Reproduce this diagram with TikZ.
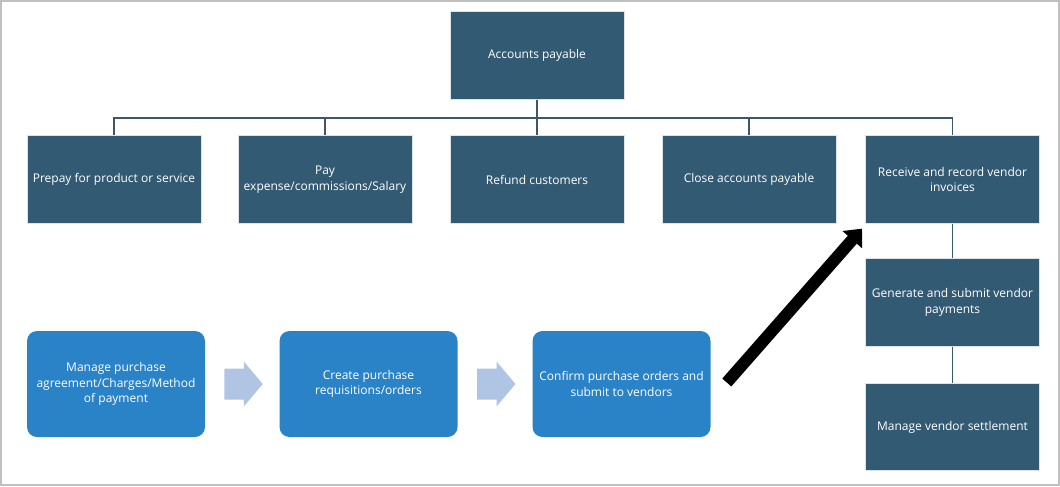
\documentclass[tikz,border=0pt]{standalone}
\usepackage{fontspec}
\setmainfont{Open Sans}
\usetikzlibrary{arrows.meta,calc}
\definecolor{darkbox}{RGB}{51,90,115}
\definecolor{bluebox}{RGB}{42,130,199}
\definecolor{boxedge}{RGB}{221,227,234}
\definecolor{linkcol}{RGB}{62,86,106}
\definecolor{arrowblue}{RGB}{176,196,228}
\definecolor{framegray}{RGB}{192,192,192}
\begin{document}
\begin{tikzpicture}[x=0.75pt,y=-0.75pt,
  txt/.style={text=white, align=center, inner sep=0pt, font=\fontsize{9}{11.5}\selectfont},
  darknode/.style={txt, draw=boxedge, line width=0.75pt, fill=darkbox,
    minimum width=130.5pt, minimum height=65.5pt},
  bluenode/.style={txt, fill=bluebox, rounded corners=7.5pt,
    minimum width=133.5pt, minimum height=79.5pt},
  link/.style={draw=linkcol, line width=0.9pt},
  blockarrow/.style={fill=arrowblue},
  bigarrow/.style={draw=black, line width=9pt,
    -{Triangle[length=11pt,width=19pt]}}]
\useasboundingbox (0,0) rectangle (1060,486);
\draw[framegray, line width=1.2pt] (0.8,0.8) rectangle (1059.2,485.2);

% top node
\node[darknode, minimum height=66pt] (top) at (537,55) {Accounts payable};

% first row
\node[darknode] (c1) at (114,179.5) {Prepay for product or service};
\node[darknode] (c2) at (325,179.5) {Pay\\expense/commissions/Salary};
\node[darknode] (c3) at (537,179.5) {Refund customers};
\node[darknode] (c4) at (749,179.5) {Close accounts payable};
\node[darknode] (c5) at (952.5,179.5) {Receive and record vendor\\invoices};

% right column
\node[darknode] (c6) at (952.5,302.5) {Generate and submit vendor\\payments};
\node[darknode] (c7) at (952.5,427) {Manage vendor settlement};

% bottom row
\node[bluenode] (b1) at (116,384) {Manage purchase\\agreement/Charges/Method\\of payment};
\node[bluenode] (b2) at (368.5,384) {Create purchase\\requisitions/orders};
\node[bluenode] (b3) at (621.5,384) {Confirm purchase orders and\\submit to vendors};

% tree connectors
\coordinate (bus) at (537,118);
\foreach \c in {c1,c2,c3,c4,c5}{
  \draw[link] (top.south) -- (bus) -| (\c.north);
}
\draw[link] (c5.south) -- (c6.north);
\draw[link] (c6.south) -- (c7.north);

% block arrows
\path (b1.east) -- (b2.west) coordinate[pos=0.5] (m1);
\path (b2.east) -- (b3.west) coordinate[pos=0.5] (m2);
\foreach \m in {m1,m2}{
  \fill[blockarrow, shift={(\m)}] (-18,-15.5) -- (1.5,-15.5) -- (1.5,-22.5)
    -- (20.5,0) -- (1.5,22.5) -- (1.5,15.5) -- (-18,15.5) -- cycle;
}

% big black arrow
\draw[bigarrow] ($(b3.east)+(16,-1.5)$) -- ($(c5.south west)+(-3,5)$);
\end{tikzpicture}
\end{document}
